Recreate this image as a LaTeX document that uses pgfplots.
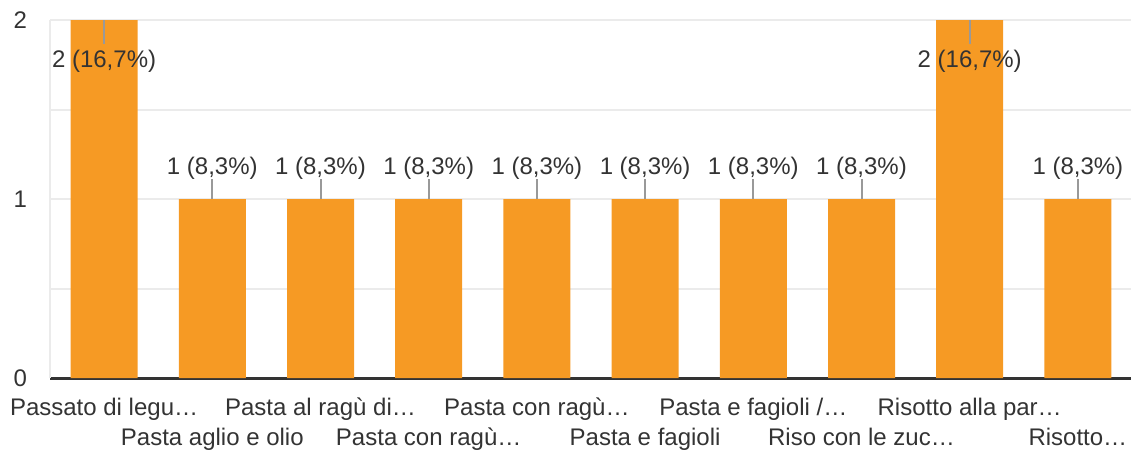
\documentclass[border=0pt]{standalone}
\usepackage{pgfplots}
\pgfplotsset{compat=1.18}
\usepackage{fontspec}
\setmainfont{Liberation Sans}
\definecolor{barorange}{HTML}{F69A24}
\definecolor{txt}{HTML}{333333}
\definecolor{gridc}{HTML}{EBEBEB}
\definecolor{leader}{HTML}{999999}

\begin{document}
\begin{tikzpicture}
\useasboundingbox (-25pt,-38.5pt) rectangle (540.5pt,189pt);
\begin{axis}[
    scale only axis,
    width=541pt, height=179pt,
    xmin=-0.5, xmax=9.5, ymin=0, ymax=2,
    ytick={0,1,2}, minor ytick={0.5,1.5},
    ymajorgrids, yminorgrids,
    grid style={draw=gridc, line width=1pt},
    minor grid style={draw=gridc, line width=1pt},
    xtick={0,...,9},
    xticklabels={{\strut Passato di legu…}, {\strut\\Pasta aglio e olio}, {\strut Pasta al ragù di…}, {\strut\\Pasta con ragù…},
        {\strut Pasta con ragù…}, {\strut\\Pasta e fagioli}, {\strut Pasta e fagioli /…}, {\strut\\Riso con le zuc…},
        {\strut Risotto alla par…}, {\strut\\Risotto…}},
    major tick length=0pt, minor tick length=0pt,
    axis x line=bottom, axis y line=left,
    axis line style={-},
    x axis line style={draw=txt, line width=1.5pt},
    y axis line style={draw=gridc, line width=1pt},
    tick label style={font=\fontsize{12}{15}\selectfont, text=txt},
    xticklabel style={align=center, anchor=north, yshift=-4.5pt},
    yticklabel style={xshift=-8pt},
    /pgf/number format/assume math mode=true,
    clip=false,
]

% counts, with leader lines as error bars
\addplot[ybar, bar width=33.5pt, bar shift=0pt, fill=barorange, draw=none,
    error bars/.cd, y dir=both, y explicit, error mark=none,
    error bar style={draw=leader, line width=1pt}]
coordinates {
    (0,2) += (0,0) -= (0,0.133)
    (1,1) += (0,0.111) -= (0,0)
    (2,1) += (0,0.111) -= (0,0)
    (3,1) += (0,0.111) -= (0,0)
    (4,1) += (0,0.111) -= (0,0)
    (5,1) += (0,0.111) -= (0,0)
    (6,1) += (0,0.111) -= (0,0)
    (7,1) += (0,0.111) -= (0,0)
    (8,2) += (0,0) -= (0,0.133)
    (9,1) += (0,0.111) -= (0,0)
};

% value labels
\addplot[draw=none, nodes near coords,
    point meta=explicit symbolic,
    visualization depends on={rawy \as \ry},
    every node near coord/.append style={anchor=center, text=txt,
        font=\fontsize{12}{14}\selectfont,
        yshift={ifthenelse(\ry>1.5,-20.5,15.5)}}]
coordinates {
    (0,2) [2 (16,7\%)]
    (1,1) [1 (8,3\%)]
    (2,1) [1 (8,3\%)]
    (3,1) [1 (8,3\%)]
    (4,1) [1 (8,3\%)]
    (5,1) [1 (8,3\%)]
    (6,1) [1 (8,3\%)]
    (7,1) [1 (8,3\%)]
    (8,2) [2 (16,7\%)]
    (9,1) [1 (8,3\%)]
};
\end{axis}
\end{tikzpicture}
\end{document}
